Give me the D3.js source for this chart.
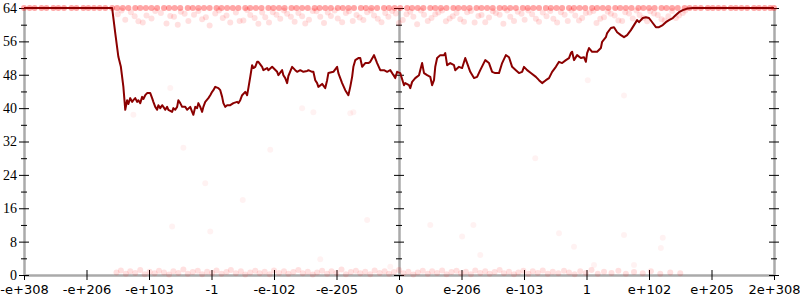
<!DOCTYPE html>
<html>
<head>
<meta charset="utf-8">
<script src="https://cdn.jsdelivr.net/npm/d3@7"></script>
<style>
  body { margin: 0; background: #fff; }
  .axis .domain { stroke: #aaa; stroke-width: 2.5; }
  .axis line { stroke: #000; }
  .yaxis text { font-family: "Liberation Serif", serif; font-size: 14px; fill: #000; }
  .xaxis text { font-family: "DejaVu Sans", sans-serif; font-size: 13px; fill: #000; }
</style>
</head>
<body>
<svg width="800" height="300"></svg>
<script>
// tick labels along x (positions 0..1200, one label every 100)
const xLabels = ["-e+308", "-e+206", "-e+103", "-1", "-e-102", "-e-205", "0",
  "e-206", "e-103", "1", "e+102", "e+205", "2e+308"];
const xTicks = [0, 100, 200, 300, 400, 500, 600, 700, 800, 900, 1000, 1100, 1200];
const yTicks = [0, 8, 16, 24, 32, 40, 48, 56, 64];
const yMinorTicks = [4, 12, 20, 28, 36, 44, 52, 60];

// moving average line
const lineX = [0, 141, 146, 151, 155, 159, 162, 165, 167, 170, 173, 175, 178, 181, 183, 186, 189, 191, 194, 197,
  202, 205, 207, 210, 213, 215, 218, 221, 223, 226, 229, 231, 237, 239, 242, 245, 247, 250, 253, 258,
  261, 266, 269, 271, 274, 277, 279, 282, 285, 287, 290, 295, 298, 301, 303, 306, 311, 314, 317, 319,
  322, 325, 330, 335, 341, 343, 346, 349, 354, 357, 359, 362, 365, 367, 370, 373, 375, 381, 383, 389,
  391, 397, 399, 405, 407, 413, 415, 418, 421, 423, 429, 434, 437, 442, 447, 453, 455, 461, 463, 466,
  469, 471, 477, 482, 485, 487, 495, 501, 503, 509, 514, 519, 522, 525, 527, 530, 535, 538, 541, 546,
  551, 554, 560, 565, 570, 576, 581, 586, 592, 594, 597, 602, 608, 610, 616, 618, 621, 626, 632, 634,
  637, 640, 645, 650, 653, 656, 658, 661, 666, 672, 674, 677, 682, 688, 690, 696, 701, 706, 709, 714,
  720, 725, 730, 738, 744, 749, 754, 760, 765, 771, 776, 781, 787, 792, 797, 800, 805, 811, 819, 824,
  829, 835, 840, 845, 851, 856, 861, 867, 872, 875, 877, 880, 885, 891, 896, 899, 901, 904, 909, 917,
  923, 925, 931, 933, 939, 944, 949, 955, 960, 965, 971, 976, 981, 984, 990, 995, 1000, 1006, 1011, 1016,
  1022, 1027, 1032, 1038, 1043, 1048, 1054, 1062, 1070, 1200];
const lineY = [64, 64, 58.0, 52.3, 49.9, 45.1, 39.6, 41.9, 41.0, 42.4, 41.5, 41.9, 42.4, 41.5, 41.9, 41.2, 42.7, 42.2, 43.1, 43.6,
  43.6, 42.4, 41.5, 40.3, 39.6, 40.7, 40.0, 40.7, 40.3, 39.6, 40.3, 39.6, 39.1, 40.0, 39.6, 40.3, 41.9, 41.2, 40.3, 40.3,
  39.6, 40.3, 39.1, 38.4, 40.3, 40.0, 41.2, 40.3, 39.1, 40.3, 41.5, 42.4, 43.1, 43.9, 44.3, 45.1, 44.8, 44.3, 42.7, 41.2,
  40.3, 40.7, 40.7, 41.2, 41.5, 41.2, 41.9, 43.1, 43.9, 43.1, 44.8, 47.5, 50.3, 49.6, 49.9, 51.1, 51.1, 49.9, 49.1, 49.6,
  49.1, 49.9, 49.6, 48.7, 47.9, 49.1, 47.9, 47.2, 46.0, 47.7, 49.9, 49.1, 48.7, 49.1, 48.7, 48.9, 49.1, 48.7, 48.7, 46.7,
  46.0, 45.1, 45.8, 44.8, 46.7, 48.4, 48.7, 49.9, 48.4, 46.0, 44.3, 43.1, 45.1, 47.5, 49.9, 51.5, 52.0, 52.0, 49.9, 50.8,
  50.8, 51.1, 52.7, 50.8, 49.1, 49.1, 48.7, 49.1, 47.7, 47.2, 48.7, 48.4, 45.5, 46.0, 45.5, 44.8, 46.3, 47.2, 47.9, 49.1,
  50.8, 48.4, 47.9, 47.5, 45.5, 46.7, 49.9, 52.0, 52.7, 52.7, 53.2, 50.3, 50.8, 50.3, 49.1, 49.9, 49.6, 52.0, 50.8, 48.7,
  47.2, 47.5, 49.1, 51.5, 50.8, 48.7, 48.4, 48.4, 50.8, 52.7, 52.2, 49.9, 49.1, 48.4, 48.7, 49.9, 49.1, 48.4, 47.5, 46.7,
  46.0, 46.7, 47.2, 48.7, 49.9, 51.1, 50.8, 51.5, 52.0, 53.2, 53.5, 51.5, 52.7, 52.0, 52.2, 51.1, 53.2, 54.4, 53.5, 53.5,
  54.4, 55.9, 57.0, 58.0, 59.2, 59.4, 58.2, 57.5, 57.0, 57.5, 58.7, 59.9, 61.1, 60.6, 61.6, 61.8, 61.6, 60.4, 59.4, 59.4,
  59.9, 60.6, 61.1, 61.6, 62.3, 63.0, 63.5, 63.9, 64, 64];

// individual samples (faint dots): x position, value
const samplesTop = [0, 9, 17, 28, 36, 47, 55, 64, 76, 84, 95, 103, 112, 121, 130, 141, 149, 158, 167, 178,
  186, 195, 204, 213, 224, 232, 241, 250, 262, 270, 279, 288, 297, 308, 316, 325, 334, 343, 354, 362,
  371, 380, 391, 399, 408, 417, 428, 436, 445, 454, 465, 473, 482, 491, 502, 510, 519, 528, 539, 547,
  556, 565, 576, 584, 593, 602, 613, 621, 630, 639, 650, 658, 667, 676, 687, 695, 704, 713, 724, 732,
  741, 750, 761, 769, 778, 787, 798, 806, 815, 824, 835, 843, 852, 861, 872, 880, 889, 898, 909, 917,
  926, 935, 946, 954, 963, 972, 983, 991, 1000, 1009, 1020, 1028, 1037, 1046, 1057, 1065, 1074, 1083, 1094, 1102,
  1111, 1120, 1131, 1139, 1148, 1157, 1168, 1176, 1185, 1194, 1200];
const samplesNearTop = [[150, 62.5], [162, 61.2], [171, 63], [183, 60.8], [196, 62.2], [204, 61.5], [219, 62.8], [228, 60.3],
  [240, 61.9], [251, 63.1], [263, 60.9], [272, 62.4], [285, 61.3], [297, 59.8], [306, 62.7], [318, 61.6], [330, 60.5],
  [339, 62.9], [351, 61], [362, 62.3], [375, 60.2], [386, 61.8], [398, 63], [410, 61.4], [421, 62.6], [433, 60.7],
  [445, 62], [456, 61.2], [468, 63.2], [480, 60.4], [491, 62.1], [502, 61.5], [515, 62.8], [526, 60.9], [537, 61.7],
  [549, 63], [560, 62.2], [572, 60.6], [583, 61.9], [595, 62.7], [606, 61.1], [618, 63.1], [629, 60.1], [640, 62.4],
  [652, 61.6], [663, 62.9], [675, 60.8], [686, 62], [698, 61.3], [709, 63], [721, 60.5], [732, 62.3], [744, 61.7],
  [755, 62.8], [767, 60.2], [778, 61.9], [790, 63.1], [801, 61.2], [813, 62.5], [824, 60.7], [836, 62], [847, 61.4],
  [859, 63], [870, 60.9], [882, 62.2], [893, 61.6], [905, 62.9], [916, 60.4], [928, 61.8], [939, 62.6], [951, 61],
  [962, 63], [974, 61.5], [985, 62.3], [997, 60.8], [1008, 62.7], [1020, 61.3], [1031, 62], [1043, 61.6], [1054, 62.8],
  [156, 63.4], [177, 62], [190, 60.5], [210, 63.3], [234, 62.1], [246, 60], [257, 62.6], [279, 63.3], [291, 61.8],
  [312, 63.4], [324, 62.2], [345, 60.9], [357, 63.5], [369, 61.6], [381, 62.9], [392, 60.5], [404, 62.4], [416, 63.4],
  [427, 61.9], [439, 62.8], [450, 60.3], [462, 63.3], [474, 61.9], [486, 62.9], [497, 63.4], [509, 60.6], [520, 63.2],
  [532, 62.3], [543, 61.1], [555, 63.4], [566, 61.4], [578, 62.8], [589, 63.3], [600, 60.4], [612, 62.5], [623, 61.9],
  [635, 63.4], [646, 60.9], [658, 62.5], [669, 63.4], [681, 61.5], [692, 62.8], [704, 60.7], [715, 63.3], [727, 62.1],
  [738, 60.6], [750, 63.2], [761, 62.4], [773, 63.4], [784, 60.9], [796, 62.6], [807, 63.4], [819, 61.4], [830, 62.9],
  [842, 63.3], [853, 60.5], [865, 62.4], [876, 63.4], [888, 61], [899, 62.8], [911, 63.3], [922, 61.4], [934, 63.1],
  [945, 62.2], [957, 60.9], [968, 62.7], [980, 63.4], [991, 61.6], [1002, 63.2], [1014, 62.3], [1025, 61], [1037, 63.3],
  [1048, 62.2], [1058, 63.4]];
const samplesBottom = [[148, 0.6], [155, 1.1], [163, 0.3], [170, 0.9], [178, 0.5], [186, 1.2], [193, 0.2], [201, 0.8],
  [209, 0.4], [216, 1.0], [224, 0.6], [232, 0.1], [239, 0.9], [247, 0.5], [255, 1.3], [262, 0.3], [270, 0.7], [278, 1.0],
  [285, 0.2], [293, 0.8], [301, 0.5], [308, 1.1], [316, 0.3], [324, 0.7], [331, 1.2], [339, 0.4], [347, 0.9], [354, 0.1],
  [362, 0.6], [370, 1.0], [377, 0.4], [385, 0.8], [393, 0.2], [400, 1.1], [408, 0.5], [416, 0.9], [423, 0.3], [431, 0.7],
  [439, 1.2], [446, 0.4], [454, 0.8], [462, 0.1], [469, 0.6], [477, 1.0], [485, 0.3], [492, 0.9], [500, 0.5], [508, 1.3],
  [515, 0.2], [523, 0.7], [531, 1.0], [538, 0.4], [546, 0.8], [554, 0.2], [561, 1.1], [569, 0.5], [577, 0.9], [584, 0.3],
  [592, 0.7], [600, 1.2], [607, 0.4], [615, 0.8], [623, 0.1], [630, 0.6], [638, 1.0], [646, 0.3], [653, 0.9], [661, 0.5],
  [669, 1.1], [676, 0.2], [684, 0.7], [692, 1.0], [699, 0.4], [707, 0.8], [715, 0.2], [722, 1.1], [730, 0.5], [738, 0.9],
  [745, 0.3], [753, 0.7], [761, 1.2], [768, 0.4], [776, 0.8], [784, 0.2], [791, 0.6], [799, 1.0], [807, 0.3], [814, 0.9],
  [822, 0.5], [830, 1.1], [838, 0.3], [846, 0.8], [855, 0.4], [864, 1.0], [872, 0.6], [881, 0.2], [890, 0.9], [899, 0.5],
  [908, 1.2], [918, 0.3], [928, 0.8], [940, 0.5], [951, 1.0], [963, 0.3], [976, 0.7], [990, 0.4], [1003, 0.9], [1018, 0.3],
  [1034, 0.6], [1050, 0.4]];
const samplesScatter = [[237, 11.6], [298, 10.4], [549, 13.2], [650, 12], [719, 12], [701, 9.2], [730, 4.8], [474, 3.8],
  [586, 2], [856, 10], [880, 6.8], [960, 9.6], [1022, 8.9], [1019, 6.5], [912, 2.4], [976, 2.4], [234, 44.8], [175, 38.4],
  [445, 40], [522, 38.8], [463, 39], [527, 39], [902, 46.7], [960, 43], [255, 30.5], [394, 30], [818, 28], [350, 18], [290, 22]];

let svg = d3.select("svg");

let x = d3.scaleLinear().domain([0, 1200]).range([24, 774]);
let y = d3.scaleLinear().domain([0, 64]).range([275, 8]);

//draws a vertical axis with crossing ticks at position p
function vAxis(p, labels) {
  let g = svg.append("g")
    .attr("class", "axis yaxis")
    .attr("transform", "translate(" + x(p) + ",0)")
    .call(d3.axisLeft(y).tickValues(yTicks).tickSizeOuter(0).tickPadding(2)
      .tickFormat(labels ? d3.format("d") : ""));
  g.selectAll(".tick line").attr("x1", -5).attr("x2", 5);
  g.selectAll(".tick text").attr("x", -7);
  // minor ticks
  let m = svg.append("g")
    .attr("class", "axis")
    .attr("transform", "translate(" + x(p) + ",0)")
    .call(d3.axisLeft(y).tickValues(yMinorTicks).tickFormat(""));
  m.select(".domain").remove();
  m.selectAll(".tick line").attr("x1", -3).attr("x2", 3);
}

//x axis
let xg = svg.append("g")
  .attr("class", "axis xaxis")
  .attr("transform", "translate(0," + y(0) + ")")
  .call(d3.axisBottom(x).tickValues(xTicks).tickSizeOuter(0)
    .tickFormat(function(d, i) { return xLabels[i]; }));
xg.selectAll(".tick line").attr("y1", -5).attr("y2", 5);
xg.selectAll(".tick text").attr("y", 10);

vAxis(0, true);
vAxis(600, false);
vAxis(1200, false);

//faint sample dots
let dots = svg.append("g").attr("fill", "red");
dots.selectAll(".top")
  .data(samplesTop)
  .enter()
  .append("circle")
  .attr("cx", function(d) { return x(d); })
  .attr("cy", y(64))
  .attr("r", 3)
  .attr("fill-opacity", 0.35);
dots.selectAll(".near")
  .data(samplesNearTop.concat(samplesBottom))
  .enter()
  .append("circle")
  .attr("cx", function(d) { return x(d[0]); })
  .attr("cy", function(d) { return y(d[1]); })
  .attr("r", 3)
  .attr("fill-opacity", 0.12);
dots.selectAll(".scatter")
  .data(samplesScatter)
  .enter()
  .append("circle")
  .attr("cx", function(d) { return x(d[0]); })
  .attr("cy", function(d) { return y(d[1]); })
  .attr("r", 3)
  .attr("fill-opacity", 0.05);

//line
let line = d3.line()
  .x(function(d) { return x(d[0]); })
  .y(function(d) { return y(d[1]); });
svg.append("path")
  .datum(lineX.map(function(d, i) { return [d, lineY[i]]; }))
  .attr("fill", "none")
  .attr("stroke", "#8b0000")
  .attr("stroke-width", 2)
  .attr("stroke-linejoin", "round")
  .attr("d", line);
</script>
</body>
</html>
